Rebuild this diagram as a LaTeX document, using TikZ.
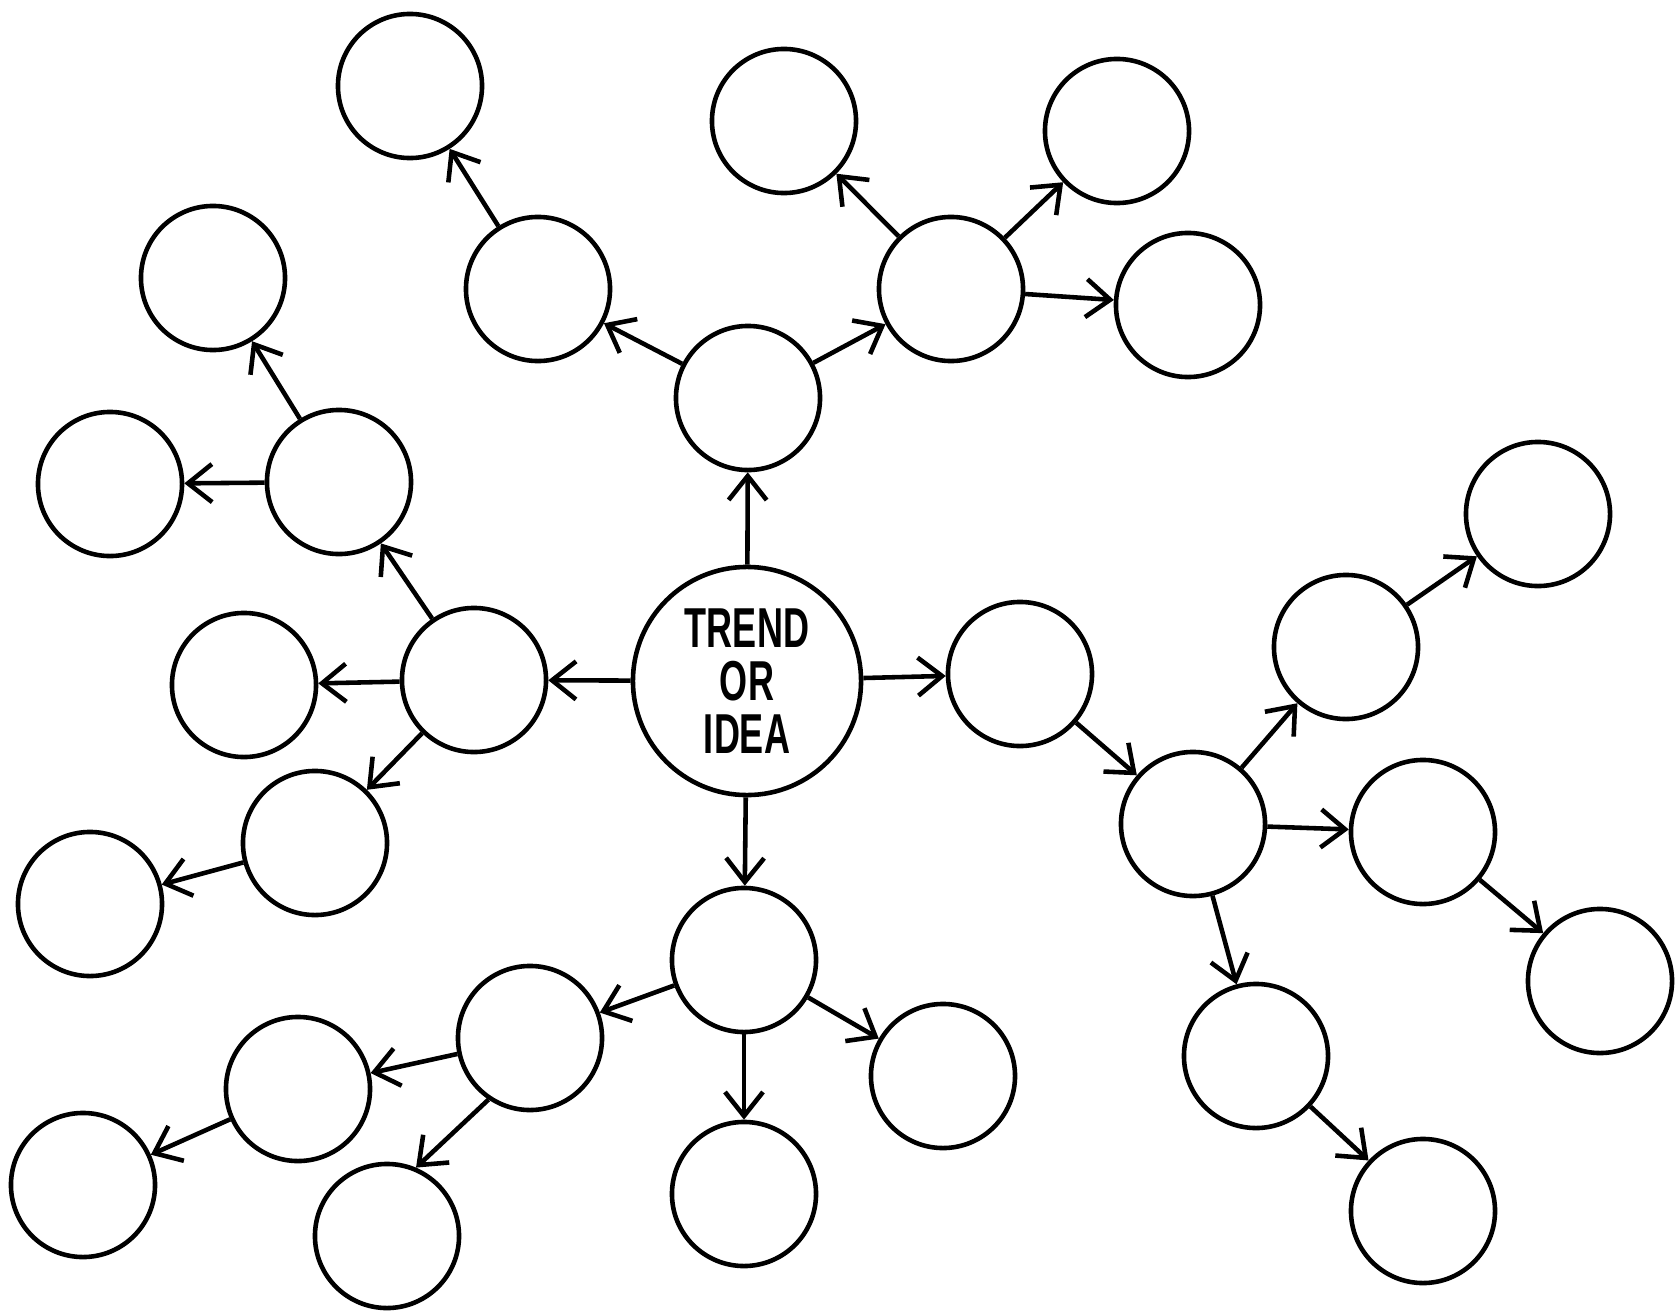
\documentclass[tikz,border=0pt]{standalone}
\usepackage{fontspec}
\usepackage{tikz}
\usetikzlibrary{arrows.meta}
\newfontfamily\trendfont[FakeStretch=0.64]{Liberation Sans}

\begin{document}
\begin{tikzpicture}[x=0.01cm, y=-0.01cm, line width=1.3pt,
  bubble/.style={draw, circle, inner sep=0pt, minimum size=1.44cm},
  hub/.style={draw, circle, inner sep=0pt, minimum size=2.28cm, align=center,
    font=\trendfont\bfseries\fontsize{16pt}{15pt}\selectfont},
  arr/.style={-{Straight Barb[length=2.4mm, width=3.8mm]}}]
\useasboundingbox (0,0) rectangle (1678,1312);
% centre
\node[hub] (trend) at (747,681) {TREND\\ OR\\ IDEA};
% upper branch
\node[bubble] (t) at (748,398) {};
\node[bubble] (tl) at (538,289) {};
\node[bubble] (tll) at (410,86) {};
\node[bubble] (tr) at (951,289) {};
\node[bubble] (tra) at (784,121) {};
\node[bubble] (trb) at (1117,131) {};
\node[bubble] (trc) at (1188,305) {};
% left branch
\node[bubble] (l) at (474,680) {};
\node[bubble] (lu) at (339,482) {};
\node[bubble] (luu) at (213,278) {};
\node[bubble] (lul) at (110,484) {};
\node[bubble] (ll) at (244,685) {};
\node[bubble] (ld) at (315,843) {};
\node[bubble] (ldd) at (90,904) {};
% right branch
\node[bubble] (r) at (1020,674) {};
\node[bubble] (rd) at (1193,824) {};
\node[bubble] (rdu) at (1346,647) {};
\node[bubble] (rduu) at (1538,514) {};
\node[bubble] (rdr) at (1423,832) {};
\node[bubble] (rdrr) at (1600,981) {};
\node[bubble] (rdd) at (1256,1056) {};
\node[bubble] (rddr) at (1423,1211) {};
% lower branch
\node[bubble] (b) at (744,960) {};
\node[bubble] (bl) at (530,1038) {};
\node[bubble] (bll) at (298,1089) {};
\node[bubble] (blll) at (83,1185) {};
\node[bubble] (bld) at (387,1236) {};
\node[bubble] (bd) at (744,1194) {};
\node[bubble] (br) at (943,1076) {};
% connectors
\draw[arr] (trend) -- (t);
\draw[arr] (trend) -- (l);
\draw[arr] (trend) -- (r);
\draw[arr] (trend) -- (b);
\draw[arr] (t) -- (tl);
\draw[arr] (tl) -- (tll);
\draw[arr] (t) -- (tr);
\draw[arr] (tr) -- (tra);
\draw[arr] (tr) -- (trb);
\draw[arr] (tr) -- (trc);
\draw[arr] (l) -- (lu);
\draw[arr] (lu) -- (luu);
\draw[arr] (lu) -- (lul);
\draw[arr] (l) -- (ll);
\draw[arr] (l) -- (ld);
\draw[arr] (ld) -- (ldd);
\draw[arr] (r) -- (rd);
\draw[arr] (rd) -- (rdu);
\draw[arr] (rdu) -- (rduu);
\draw[arr] (rd) -- (rdr);
\draw[arr] (rdr) -- (rdrr);
\draw[arr] (rd) -- (rdd);
\draw[arr] (rdd) -- (rddr);
\draw[arr] (b) -- (bl);
\draw[arr] (bl) -- (bll);
\draw[arr] (bll) -- (blll);
\draw[arr] (bl.236) -- (bld.67);
\draw[arr] (b) -- (bd);
\draw[arr] (b) -- (br);
\end{tikzpicture}
\end{document}
